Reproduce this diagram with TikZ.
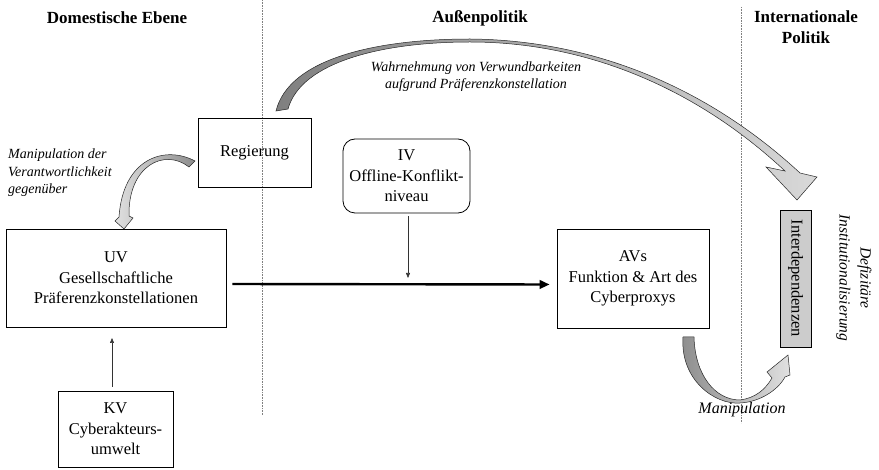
\documentclass[tikz,border=0pt]{standalone}
\usepackage{fontspec}
\setmainfont{Liberation Serif}[BoldFont={Liberation Serif Bold}, ItalicFont={Liberation Serif Italic}, BoldItalicFont={Liberation Serif Bold Italic}]
\usetikzlibrary{arrows.meta}
\newcommand\bxf{\fontsize{16.5}{20.5}\selectfont}
\newcommand\itf{\fontsize{14}{17.5}\selectfont\itshape}
\newcommand\hdf{\fontsize{17}{21}\selectfont\bfseries}
\begin{document}
\begin{tikzpicture}[x=1pt,y=-1pt,
  box/.style={draw=black, line width=0.8pt, inner sep=0pt, align=center, font=\bxf},
  heading/.style={inner sep=0pt, align=center, font=\hdf},
  itlabel/.style={inner sep=0pt, font=\itf},
  divider/.style={draw=black!50, line width=0.6pt, dash pattern=on 0.8pt off 0.8pt},
  bandarrow/.style={draw=black!85, line width=0.5pt},
  thinarr/.style={draw=black!80, line width=0.6pt, -{Triangle[length=5pt,width=4pt]}},
  mainarr/.style={draw=black, line width=2.4pt, -{Triangle[length=10pt,width=8.5pt]}}]
\useasboundingbox (0,0) rectangle (879,470);
% dividers
\draw[divider] (262,0) -- (262,415);
\draw[divider] (741,7) -- (741,423);
% headings
\node[heading] (h1) at (117,18) {Domestische Ebene};
\node[heading] (h2) at (480,18) {Außenpolitik};
\node[heading] (h3) at (806,27) {Internationale\\Politik};
% boxes
\node[box, minimum width=113pt, minimum height=69pt] (reg) at (254.5,152.5) {Regierung};
\node[box, rounded corners=12pt, minimum width=127pt, minimum height=74pt] (iv) at (406.5,176) {IV\\Offline-Konflikt-\\niveau};
\node[box, minimum width=220pt, minimum height=98pt] (uv) at (116,278) {UV\\Gesellschaftliche\\Präferenzkonstellationen};
\node[box, minimum width=152pt, minimum height=99pt] (av) at (633,278.5) {AVs\\Funktion \& Art des\\Cyberproxys};
\node[box, minimum width=115pt, minimum height=76pt] (kv) at (115.5,429) {KV\\Cyberakteurs-\\umwelt};
\node[box, fill=black!20, rotate=-90, minimum width=137pt, minimum height=31pt] (inter) at (795.5,278.5) {Interdependenzen};
% labels
\node[itlabel, align=left, anchor=west] (lab1) at (8,173) {Manipulation der\\Verantwortlichkeit\\gegenüber};
\node[itlabel, align=center] (lab2) at (476,76.5) {Wahrnehmung von Verwundbarkeiten\\aufgrund Präferenzkonstellation};
\node[itlabel, font=\fontsize{16}{18}\selectfont\itshape] (lab3) at (742,410) {Manipulation};
\node[itlabel, align=center, rotate=-90, font=\fontsize{15.5}{21}\selectfont\itshape] (lab4) at (854,278) {Defizitäre\\Institutionalisierung};
% straight arrows
\draw[mainarr, shorten <=6pt, shorten >=7pt] ([yshift=-6pt]uv.east) -- ([yshift=-6pt]av.west);
\coordinate (ivend) at (408,278);
\draw[thinarr, shorten <=3pt] (iv.south -| ivend) -- (ivend);
\coordinate (kvend) at (112,338);
\draw[thinarr, shorten <=4pt] (kv.north -| kvend) -- (kvend);
% big curved arrow
\shade[bandarrow, left color=black!50, right color=black!15]
  (276,111) .. controls (289,58) and (378,39) .. (470,39)
  .. controls (590,40) and (705,85) .. (800,173)
  -- (817,177) -- (797,200) -- (766,167) -- (785,171)
  .. controls (695,87) and (585,42) .. (470,42)
  .. controls (382,42) and (301,62) .. (288,109) -- cycle;
% left curved arrow
\shade[bandarrow, left color=black!12, right color=black!45]
  (195,161) .. controls (165,145) and (123,158) .. (119,217)
  -- (115,221) -- (124,229) -- (133,218) -- (129,216)
  .. controls (128,165) and (165,148) .. (189,167) -- cycle;
% bottom curved arrow
\shade[bandarrow, left color=black!45, right color=black!12]
  (683,337) .. controls (680,380) and (715,405) .. (740,403)
  .. controls (760,402) and (778,390) .. (785,377)
  -- (790,375) -- (788,355) -- (767,372) -- (772,378)
  .. controls (765,390) and (755,398) .. (740,400)
  .. controls (715,400) and (695,375) .. (694,337) -- cycle;
\end{tikzpicture}
\end{document}
